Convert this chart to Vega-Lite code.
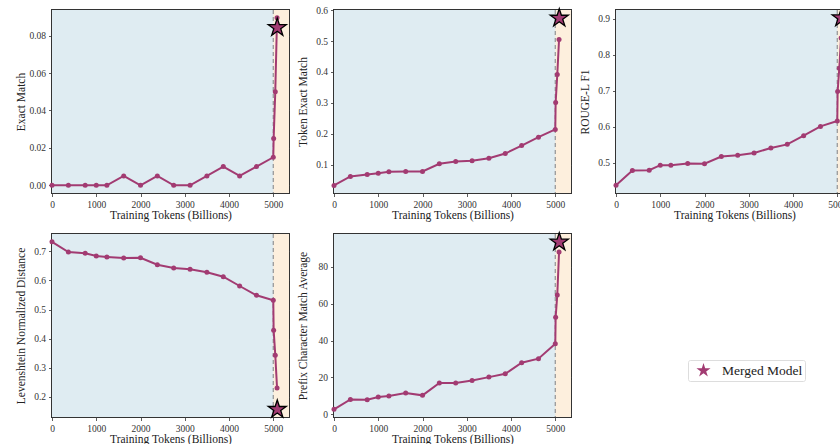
{
  "$schema": "https://vega.github.io/schema/vega-lite/v6.json",
  "padding": {"left": 14, "top": 4, "right": 0, "bottom": 0},
  "background": "white",
  "datasets": {
    "curve": [
      {"tokens": 0, "em": 0, "tem": 0.033, "rouge": 0.437, "lev": 0.733, "prefix": 2.7},
      {"tokens": 370, "em": 0, "tem": 0.062, "rouge": 0.478, "lev": 0.698, "prefix": 8.1},
      {"tokens": 750, "em": 0, "tem": 0.068, "rouge": 0.479, "lev": 0.694, "prefix": 7.9},
      {"tokens": 1000, "em": 0, "tem": 0.072, "rouge": 0.493, "lev": 0.684, "prefix": 9.4},
      {"tokens": 1240, "em": 0, "tem": 0.077, "rouge": 0.493, "lev": 0.681, "prefix": 9.9},
      {"tokens": 1620, "em": 0.005, "tem": 0.078, "rouge": 0.498, "lev": 0.677, "prefix": 11.6},
      {"tokens": 2000, "em": 0, "tem": 0.078, "rouge": 0.497, "lev": 0.678, "prefix": 10.3},
      {"tokens": 2380, "em": 0.005, "tem": 0.103, "rouge": 0.517, "lev": 0.654, "prefix": 17.0},
      {"tokens": 2750, "em": 0, "tem": 0.110, "rouge": 0.521, "lev": 0.643, "prefix": 17.0},
      {"tokens": 3120, "em": 0, "tem": 0.113, "rouge": 0.527, "lev": 0.639, "prefix": 18.4},
      {"tokens": 3500, "em": 0.005, "tem": 0.121, "rouge": 0.541, "lev": 0.628, "prefix": 20.2},
      {"tokens": 3870, "em": 0.010, "tem": 0.136, "rouge": 0.551, "lev": 0.613, "prefix": 22.0},
      {"tokens": 4240, "em": 0.005, "tem": 0.162, "rouge": 0.575, "lev": 0.581, "prefix": 28.0},
      {"tokens": 4620, "em": 0.010, "tem": 0.189, "rouge": 0.601, "lev": 0.549, "prefix": 30.2},
      {"tokens": 5000, "em": 0.015, "tem": 0.214, "rouge": 0.616, "lev": 0.532, "prefix": 38.3},
      {"tokens": 5008, "em": 0.025, "tem": 0.301, "rouge": 0.698, "lev": 0.429, "prefix": 52.7},
      {"tokens": 5045, "em": 0.050, "tem": 0.392, "rouge": 0.763, "lev": 0.343, "prefix": 64.8},
      {"tokens": 5085, "em": 0.0895, "tem": 0.505, "rouge": 0.847, "lev": 0.230, "prefix": 88.1}
    ],
    "merged": [
      {"tokens": 5090, "model": "Merged Model", "em": 0.0843, "tem": 0.574, "rouge": 0.903, "lev": 0.156, "prefix": 93.5}
    ],
    "phases": [
      {"phase": "Training", "tokens": 0, "end": 5000},
      {"phase": "Merged", "tokens": 5000, "end": 5355}
    ],
    "boundary": [{"tokens": 5000}]
  },
  "spacing": 7,
  "resolve": {"scale": {"shape": "independent", "color": "independent"}, "legend": {"shape": "independent", "color": "independent"}},
  "vconcat": [
    {
      "spacing": 6,
      "resolve": {"scale": {"shape": "independent", "color": "independent"}, "legend": {"shape": "independent", "color": "independent"}},
      "hconcat": [
        {
          "width": 237, "height": 183,
          "layer": [
            {"data": {"name": "phases"}, "mark": {"type": "rect"}, "encoding": {"x": {"field": "tokens", "type": "quantitative", "title": "Training Tokens (Billions)", "scale": {"domain": [0, 5355], "nice": false, "zero": false}, "axis": {"values": [0, 1000, 2000, 3000, 4000, 5000], "format": "d"}}, "x2": {"field": "end"}, "color": {"field": "phase", "type": "nominal", "scale": {"domain": ["Training", "Merged"], "range": ["#dfecf2", "#fdefdd"]}, "legend": null}}},
            {"data": {"name": "boundary"}, "mark": {"type": "rule", "color": "#9a9a9a", "strokeDash": [4, 3], "strokeWidth": 1.3}, "encoding": {"x": {"field": "tokens", "type": "quantitative", "title": "Training Tokens (Billions)"}}},
            {"data": {"name": "curve"}, "mark": {"type": "line", "color": "#A23B72", "strokeWidth": 2, "point": {"filled": true, "size": 25, "color": "#A23B72"}},
             "encoding": {"x": {"field": "tokens", "type": "quantitative", "title": "Training Tokens (Billions)"}, "y": {"field": "em", "type": "quantitative", "title": "Exact Match", "scale": {"domain": [-0.0041, 0.0937], "nice": false, "zero": false}, "axis": {"values": [0, 0.02, 0.04, 0.06, 0.08], "format": ".2f", "tickCount": 12}}}},
            {"data": {"name": "merged"}, "mark": {"type": "point", "filled": true, "size": 360, "fill": "#A23B72", "stroke": "#000000", "strokeWidth": 1.3, "opacity": 1},
             "encoding": {"x": {"field": "tokens", "type": "quantitative", "title": "Training Tokens (Billions)"}, "y": {"field": "em", "type": "quantitative", "title": "Exact Match"}, "shape": {"field": "model", "type": "nominal", "scale": {"range": ["M0,-1L0.2245,-0.309L0.9511,-0.309L0.3633,0.118L0.5878,0.809L0,0.382L-0.5878,0.809L-0.3633,0.118L-0.9511,-0.309L-0.2245,-0.309Z"]}, "legend": null}}}
          ]
        },
        {
          "width": 237, "height": 183,
          "layer": [
            {"data": {"name": "phases"}, "mark": {"type": "rect"}, "encoding": {"x": {"field": "tokens", "type": "quantitative", "title": "Training Tokens (Billions)", "scale": {"domain": [0, 5355], "nice": false, "zero": false}, "axis": {"values": [0, 1000, 2000, 3000, 4000, 5000], "format": "d"}}, "x2": {"field": "end"}, "color": {"field": "phase", "type": "nominal", "scale": {"domain": ["Training", "Merged"], "range": ["#dfecf2", "#fdefdd"]}, "legend": null}}},
            {"data": {"name": "boundary"}, "mark": {"type": "rule", "color": "#9a9a9a", "strokeDash": [4, 3], "strokeWidth": 1.3}, "encoding": {"x": {"field": "tokens", "type": "quantitative", "title": "Training Tokens (Billions)"}}},
            {"data": {"name": "curve"}, "mark": {"type": "line", "color": "#A23B72", "strokeWidth": 2, "point": {"filled": true, "size": 25, "color": "#A23B72"}},
             "encoding": {"x": {"field": "tokens", "type": "quantitative", "title": "Training Tokens (Billions)"}, "y": {"field": "tem", "type": "quantitative", "title": "Token Exact Match", "scale": {"domain": [0.0084, 0.6005], "nice": false, "zero": false}, "axis": {"values": [0.1, 0.2, 0.3, 0.4, 0.5, 0.6], "format": ".1f", "tickCount": 12}}}},
            {"data": {"name": "merged"}, "mark": {"type": "point", "filled": true, "size": 360, "fill": "#A23B72", "stroke": "#000000", "strokeWidth": 1.3, "opacity": 1},
             "encoding": {"x": {"field": "tokens", "type": "quantitative", "title": "Training Tokens (Billions)"}, "y": {"field": "tem", "type": "quantitative", "title": "Token Exact Match"}, "shape": {"field": "model", "type": "nominal", "scale": {"range": ["M0,-1L0.2245,-0.309L0.9511,-0.309L0.3633,0.118L0.5878,0.809L0,0.382L-0.5878,0.809L-0.3633,0.118L-0.9511,-0.309L-0.2245,-0.309Z"]}, "legend": null}}}
          ]
        },
        {
          "width": 237, "height": 183,
          "layer": [
            {"data": {"name": "phases"}, "mark": {"type": "rect"}, "encoding": {"x": {"field": "tokens", "type": "quantitative", "title": "Training Tokens (Billions)", "scale": {"domain": [0, 5355], "nice": false, "zero": false}, "axis": {"values": [0, 1000, 2000, 3000, 4000, 5000], "format": "d"}}, "x2": {"field": "end"}, "color": {"field": "phase", "type": "nominal", "scale": {"domain": ["Training", "Merged"], "range": ["#dfecf2", "#fdefdd"]}, "legend": null}}},
            {"data": {"name": "boundary"}, "mark": {"type": "rule", "color": "#9a9a9a", "strokeDash": [4, 3], "strokeWidth": 1.3}, "encoding": {"x": {"field": "tokens", "type": "quantitative", "title": "Training Tokens (Billions)"}}},
            {"data": {"name": "curve"}, "mark": {"type": "line", "color": "#A23B72", "strokeWidth": 2, "point": {"filled": true, "size": 25, "color": "#A23B72"}},
             "encoding": {"x": {"field": "tokens", "type": "quantitative", "title": "Training Tokens (Billions)"}, "y": {"field": "rouge", "type": "quantitative", "title": "ROUGE-L F1", "scale": {"domain": [0.4156, 0.925], "nice": false, "zero": false}, "axis": {"values": [0.5, 0.6, 0.7, 0.8, 0.9], "format": ".1f", "tickCount": 12}}}},
            {"data": {"name": "merged"}, "mark": {"type": "point", "filled": true, "size": 360, "fill": "#A23B72", "stroke": "#000000", "strokeWidth": 1.3, "opacity": 1},
             "encoding": {"x": {"field": "tokens", "type": "quantitative", "title": "Training Tokens (Billions)"}, "y": {"field": "rouge", "type": "quantitative", "title": "ROUGE-L F1"}, "shape": {"field": "model", "type": "nominal", "scale": {"range": ["M0,-1L0.2245,-0.309L0.9511,-0.309L0.3633,0.118L0.5878,0.809L0,0.382L-0.5878,0.809L-0.3633,0.118L-0.9511,-0.309L-0.2245,-0.309Z"]}, "legend": null}}}
          ]
        }
      ]
    },
    {
      "spacing": 6,
      "resolve": {"scale": {"shape": "independent", "color": "independent"}, "legend": {"shape": "independent", "color": "independent"}},
      "hconcat": [
        {
          "width": 237, "height": 183,
          "layer": [
            {"data": {"name": "phases"}, "mark": {"type": "rect"}, "encoding": {"x": {"field": "tokens", "type": "quantitative", "title": "Training Tokens (Billions)", "scale": {"domain": [0, 5355], "nice": false, "zero": false}, "axis": {"values": [0, 1000, 2000, 3000, 4000, 5000], "format": "d"}}, "x2": {"field": "end"}, "color": {"field": "phase", "type": "nominal", "scale": {"domain": ["Training", "Merged"], "range": ["#dfecf2", "#fdefdd"]}, "legend": null}}},
            {"data": {"name": "boundary"}, "mark": {"type": "rule", "color": "#9a9a9a", "strokeDash": [4, 3], "strokeWidth": 1.3}, "encoding": {"x": {"field": "tokens", "type": "quantitative", "title": "Training Tokens (Billions)"}}},
            {"data": {"name": "curve"}, "mark": {"type": "line", "color": "#A23B72", "strokeWidth": 2, "point": {"filled": true, "size": 25, "color": "#A23B72"}},
             "encoding": {"x": {"field": "tokens", "type": "quantitative", "title": "Training Tokens (Billions)"}, "y": {"field": "lev", "type": "quantitative", "title": "Levenshtein Normalized Distance", "scale": {"domain": [0.130, 0.760], "nice": false, "zero": false}, "axis": {"values": [0.2, 0.3, 0.4, 0.5, 0.6, 0.7], "format": ".1f", "tickCount": 12}}}},
            {"data": {"name": "merged"}, "mark": {"type": "point", "filled": true, "size": 360, "fill": "#A23B72", "stroke": "#000000", "strokeWidth": 1.3, "opacity": 1},
             "encoding": {"x": {"field": "tokens", "type": "quantitative", "title": "Training Tokens (Billions)"}, "y": {"field": "lev", "type": "quantitative", "title": "Levenshtein Normalized Distance"}, "shape": {"field": "model", "type": "nominal", "scale": {"range": ["M0,-1L0.2245,-0.309L0.9511,-0.309L0.3633,0.118L0.5878,0.809L0,0.382L-0.5878,0.809L-0.3633,0.118L-0.9511,-0.309L-0.2245,-0.309Z"]}, "legend": null}}}
          ]
        },
        {
          "width": 237, "height": 183,
          "layer": [
            {"data": {"name": "phases"}, "mark": {"type": "rect"}, "encoding": {"x": {"field": "tokens", "type": "quantitative", "title": "Training Tokens (Billions)", "scale": {"domain": [0, 5355], "nice": false, "zero": false}, "axis": {"values": [0, 1000, 2000, 3000, 4000, 5000], "format": "d"}}, "x2": {"field": "end"}, "color": {"field": "phase", "type": "nominal", "scale": {"domain": ["Training", "Merged"], "range": ["#dfecf2", "#fdefdd"]}, "legend": null}}},
            {"data": {"name": "boundary"}, "mark": {"type": "rule", "color": "#9a9a9a", "strokeDash": [4, 3], "strokeWidth": 1.3}, "encoding": {"x": {"field": "tokens", "type": "quantitative", "title": "Training Tokens (Billions)"}}},
            {"data": {"name": "curve"}, "mark": {"type": "line", "color": "#A23B72", "strokeWidth": 2, "point": {"filled": true, "size": 25, "color": "#A23B72"}},
             "encoding": {"x": {"field": "tokens", "type": "quantitative", "title": "Training Tokens (Billions)"}, "y": {"field": "prefix", "type": "quantitative", "title": "Prefix Character Match Average", "scale": {"domain": [-1.46, 97.9], "nice": false, "zero": false}, "axis": {"values": [0, 20, 40, 60, 80], "format": "d", "tickCount": 12}}}},
            {"data": {"name": "merged"}, "mark": {"type": "point", "filled": true, "size": 360, "fill": "#A23B72", "stroke": "#000000", "strokeWidth": 1.3, "opacity": 1},
             "encoding": {"x": {"field": "tokens", "type": "quantitative", "title": "Training Tokens (Billions)"}, "y": {"field": "prefix", "type": "quantitative", "title": "Prefix Character Match Average"},
               "shape": {"field": "model", "type": "nominal", "scale": {"range": ["M0,-1L0.2245,-0.309L0.9511,-0.309L0.3633,0.118L0.5878,0.809L0,0.382L-0.5878,0.809L-0.3633,0.118L-0.9511,-0.309L-0.2245,-0.309Z"]},
                 "legend": {"orient": "none", "legendX": 354, "legendY": 126, "title": null, "padding": 2, "strokeColor": "#dddddd", "fillColor": "#ffffff", "cornerRadius": 2, "labelFont": "Liberation Serif", "labelFontSize": 13.5, "labelColor": "#222222", "symbolSize": 220, "symbolFillColor": "#A23B72", "symbolStrokeColor": "#000000", "symbolStrokeWidth": 1.2, "symbolOffset": 5, "labelOffset": 10}}}}
          ]
        }
      ]
    }
  ],
  "config": {
    "font": "Liberation Serif",
    "view": {"stroke": "#333333", "strokeWidth": 2},
    "axis": {"domain": false, "grid": true, "gridColor": "#7f8f9a", "gridOpacity": 0.3, "gridWidth": 0.8, "tickColor": "#333333", "tickSize": 3.5, "tickWidth": 0.8, "labelFont": "Liberation Serif", "labelFontSize": 9.5, "labelColor": "#333333", "labelFlush": false, "labelOverlap": false, "labelPadding": 3, "titleFont": "Liberation Serif", "titleFontSize": 11.5, "titleFontWeight": "normal", "titleColor": "#222222", "zindex": 1},
    "axisY": {"minExtent": 22, "maxExtent": 22, "titlePadding": 4},
    "axisX": {"minExtent": 16, "maxExtent": 16, "titlePadding": 0}
  }
}
